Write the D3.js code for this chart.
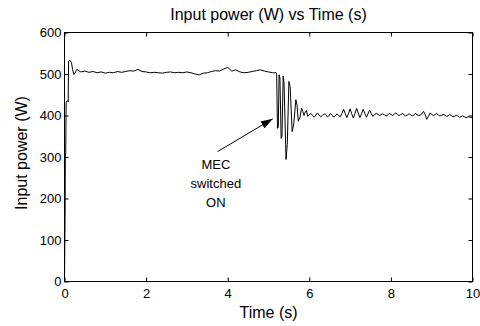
<!DOCTYPE html>
<html>
<head>
<meta charset="utf-8">
<script src="https://cdn.jsdelivr.net/npm/d3@7"></script>
<style>
  body { margin: 0; background: #fff; }
  text { font-family: "Liberation Sans", Arial, sans-serif; fill: #000; }
  .axis path { display: none; }
  .axis line { stroke: #000; }
</style>
</head>
<body>
<script>

// Start-up of the motor: power rises and overshoots
var riseT = [0, 0.005, 0.015, 0.02, 0.03, 0.04, 0.07, 0.09, 0.10, 0.13, 0.17, 0.20, 0.23, 0.27, 0.30];
var riseW = [0, 60, 170, 300, 310, 432, 436, 433, 530, 533, 528, 510, 499, 505, 511];

// Steady running before the MEC is switched on
var steadyT = [0.4, 0.5, 0.6, 0.7, 0.8, 0.9, 1.0, 1.1, 1.2, 1.3, 1.4, 1.5, 1.6, 1.7, 1.8, 1.9,
               2.0, 2.1, 2.2, 2.3, 2.4, 2.5, 2.6, 2.7, 2.8, 2.9, 3.0, 3.1, 3.2, 3.3, 3.4, 3.5,
               3.6, 3.7, 3.8, 3.9, 4.0, 4.1, 4.2, 4.3, 4.4, 4.5, 4.6, 4.7, 4.8, 4.9, 5.0, 5.1, 5.15];
var steadyW = [505, 507, 504, 506, 503, 505, 502, 504, 503, 506, 504, 506, 508, 507, 511, 506,
               505, 503, 504, 503, 502, 504, 505, 503, 504, 503, 505, 503, 500, 498, 502, 503,
               506, 508, 507, 512, 516, 507, 510, 505, 503, 504, 506, 508, 510, 507, 505, 503, 503];

// Transient after switching
var transientT = [5.18, 5.20, 5.22, 5.24, 5.26, 5.28, 5.31, 5.33, 5.36, 5.38, 5.43, 5.46, 5.50, 5.53,
                  5.58, 5.62, 5.67, 5.70, 5.73, 5.77, 5.81, 5.84, 5.87, 5.90, 5.93, 5.96, 6.00];
var transientW = [504, 500, 369, 372, 498, 490, 345, 350, 495, 480, 294, 330, 482, 470,
                  361, 380, 438, 425, 386, 395, 418, 410, 400, 408, 412, 398, 402];

// New steady state with ripple
var tailT = [6.04, 6.08, 6.12, 6.16, 6.2, 6.24, 6.28, 6.32, 6.36, 6.4, 6.44, 6.48, 6.52, 6.56, 6.6, 6.64, 6.68, 6.72, 6.76,
             6.8, 6.84, 6.88, 6.92, 6.96, 7, 7.04, 7.08, 7.12, 7.16, 7.2, 7.24, 7.28, 7.32, 7.36, 7.4, 7.44, 7.48, 7.52, 7.56,
             7.6, 7.64, 7.68, 7.72, 7.76, 7.8, 7.84, 7.88, 7.92, 7.96, 8, 8.04, 8.08, 8.12, 8.16, 8.2, 8.24, 8.28, 8.32, 8.36,
             8.4, 8.44, 8.48, 8.52, 8.56, 8.6, 8.64, 8.68, 8.72, 8.76,
             8.8, 8.84, 8.88, 8.92, 8.96,
             9, 9.04, 9.08, 9.12, 9.16, 9.2, 9.24, 9.28, 9.32, 9.36, 9.4, 9.44, 9.48, 9.52, 9.56, 9.6, 9.64, 9.68, 9.72, 9.76,
             9.8, 9.84, 9.88, 9.92, 9.96, 10];
var tailW = [405, 400, 396, 401, 406, 401, 397, 400, 404, 402, 397, 399, 405, 401, 396, 400, 404, 400, 397,
             405, 415, 405, 395, 404, 416, 404, 394, 405, 417, 406, 395, 404, 415, 405, 396, 404, 413, 404, 398,
             402, 405, 403, 400, 402, 404, 402, 399, 401, 405, 403, 400, 403, 406, 403, 400, 402, 405, 402, 399,
             401, 404, 402, 399, 401, 405, 402, 400, 401, 404,
             410, 402, 391, 398, 406,
             403, 400, 402, 405, 402, 399, 400, 403, 401, 398, 399, 402, 400, 397, 398, 401, 399, 396, 397, 399,
             397, 395, 396, 397, 395, 396];

var xTicks = [0, 2, 4, 6, 8, 10];
var yTicks = [0, 100, 200, 300, 400, 500, 600];
var noteLines = ["MEC", "switched", "ON"];

setChart();
function setChart(){

  // Frame and plot area
  var width = 480,
      height = 326;
  var margin = {left: 64.5, top: 32.5},
      plotW = 408,
      plotH = 249;

  var svg = d3.select("body")
      .append("svg")
      .attr("width", width)
      .attr("height", height);

  var g = svg.append("g")
      .attr("transform", "translate(" + margin.left + "," + margin.top + ")");

  var x = d3.scaleLinear().domain([0, 10]).range([0, plotW]);
  var y = d3.scaleLinear().domain([0, 600]).range([plotH, 0]);

  // Joining the segments into one series
  var data = [];
  [[riseT, riseW], [steadyT, steadyW], [transientT, transientW], [tailT, tailW]].forEach(function(s){
    s[0].forEach(function(t, i){ data.push({t: t, w: s[1][i]}); });
  });

  // Axes with inward ticks on all sides
  g.append("g").attr("class", "axis")
      .attr("transform", "translate(0," + plotH + ")")
      .call(d3.axisBottom(x).tickValues(xTicks).tickSizeInner(-4).tickSizeOuter(0).tickPadding(7))
      .selectAll("text").style("font-size", "13px");
  g.append("g").attr("class", "axis")
      .call(d3.axisTop(x).tickValues(xTicks).tickSizeInner(-4).tickSizeOuter(0).tickFormat(""));
  g.append("g").attr("class", "axis")
      .call(d3.axisLeft(y).tickValues(yTicks).tickSizeInner(-4).tickSizeOuter(0).tickPadding(3))
      .selectAll("text").style("font-size", "13px");
  g.append("g").attr("class", "axis")
      .attr("transform", "translate(" + plotW + ",0)")
      .call(d3.axisRight(y).tickValues(yTicks).tickSizeInner(-4).tickSizeOuter(0).tickFormat(""));

  g.append("rect")
      .attr("width", plotW)
      .attr("height", plotH)
      .attr("fill", "none")
      .attr("stroke", "#000");

  // Power trace
  var line = d3.line()
      .x(function(d){ return x(d.t); })
      .y(function(d){ return y(d.w); });

  g.append("path")
      .datum(data)
      .attr("fill", "none")
      .attr("stroke", "#000")
      .attr("stroke-width", 1)
      .attr("d", line);

  // Annotation arrow
  svg.append("defs").append("marker")
      .attr("id", "head")
      .attr("viewBox", "0 0 12 8")
      .attr("refX", 12).attr("refY", 4)
      .attr("markerWidth", 12).attr("markerHeight", 8)
      .attr("markerUnits", "userSpaceOnUse")
      .attr("orient", "auto")
      .append("path")
      .attr("d", "M0,0L12,4L0,8Z")
      .attr("fill", "#000");

  g.append("line")
      .attr("x1", x(3.75)).attr("y1", y(313))
      .attr("x2", x(5.105)).attr("y2", y(392))
      .attr("stroke", "#000")
      .attr("marker-end", "url(#head)");

  g.append("text")
      .attr("x", x(3.71))
      .attr("y", y(272))
      .attr("text-anchor", "middle")
      .style("font-size", "13px")
      .selectAll("tspan")
      .data(noteLines)
      .enter()
      .append("tspan")
      .attr("x", x(3.71))
      .attr("dy", function(d, i){ return i === 0 ? 0 : 19; })
      .text(function(d){ return d; });

  // Titles
  svg.append("text")
      .attr("x", margin.left + plotW / 2)
      .attr("y", 20)
      .attr("text-anchor", "middle")
      .style("font-size", "16px")
      .text("Input power (W) vs Time (s)");

  svg.append("text")
      .attr("x", margin.left + plotW / 2)
      .attr("y", 318)
      .attr("text-anchor", "middle")
      .style("font-size", "16px")
      .text("Time (s)");

  svg.append("text")
      .attr("transform", "translate(27," + (margin.top + plotH / 2 - 4) + ") rotate(-90)")
      .attr("text-anchor", "middle")
      .style("font-size", "16px")
      .text("Input power (W)");
};
</script>
</body>
</html>
